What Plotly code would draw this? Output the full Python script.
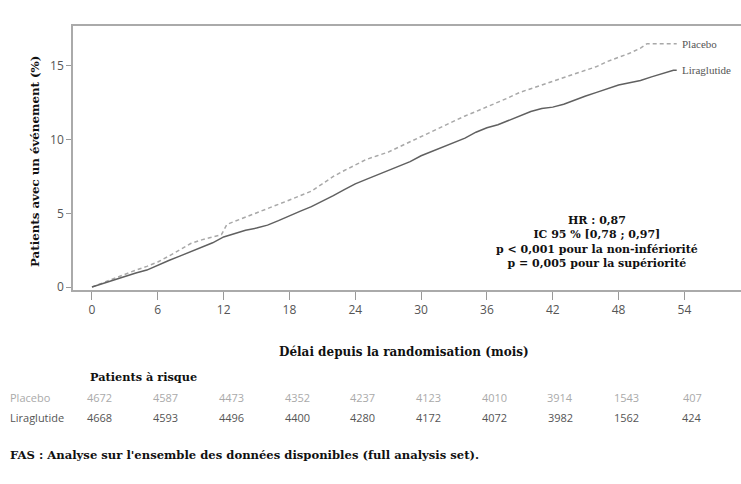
import plotly.graph_objects as go

# --- data -------------------------------------------------------------
months_lira = [0, 1, 2, 3, 4, 5, 6, 7, 8, 9, 10, 11, 12, 13, 14, 15, 16, 17, 18, 19,
               20, 21, 22, 23, 24, 25, 26, 27, 28, 29, 30, 31, 32, 33, 34, 35, 36, 37,
               38, 39, 40, 41, 42, 43, 44, 45, 46, 47, 48, 49, 50, 51, 52, 53, 53.3]
lira = [0, 0.25, 0.5, 0.75, 0.95, 1.15, 1.5, 1.8, 2.1, 2.4, 2.7, 3.0, 3.4, 3.65, 3.85,
        4.0, 4.2, 4.5, 4.85, 5.15, 5.45, 5.8, 6.2, 6.6, 7.0, 7.3, 7.6, 7.9, 8.2, 8.5,
        8.9, 9.2, 9.5, 9.8, 10.1, 10.5, 10.8, 11.0, 11.3, 11.6, 11.9, 12.1, 12.2,
        12.4, 12.7, 12.95, 13.2, 13.45, 13.7, 13.85, 14.0, 14.25, 14.5, 14.7, 14.7]

months_plac = [0, 1, 2, 3, 4, 5, 6, 7, 8, 9, 10, 11, 11.8, 12.3, 13, 14, 15, 16, 17,
               18, 19, 20, 21, 22, 23, 24, 25, 26, 27, 28, 29, 30, 31, 32, 33, 34, 35,
               36, 37, 38, 39, 40, 41, 42, 43, 44, 45, 46, 47, 48, 49, 50, 50.6, 53.3]
plac = [0, 0.3, 0.6, 0.9, 1.15, 1.4, 1.7, 2.1, 2.55, 2.95, 3.2, 3.4, 3.55, 4.25,
        4.45, 4.75, 5.0, 5.3, 5.6, 5.9, 6.2, 6.5, 7.0, 7.5, 7.9, 8.3, 8.65, 8.9,
        9.15, 9.5, 9.85, 10.2, 10.55, 10.95, 11.3, 11.6, 11.9, 12.2, 12.5, 12.85,
        13.2, 13.45, 13.7, 13.95, 14.2, 14.45, 14.7, 14.95, 15.3, 15.55, 15.85,
        16.2, 16.5, 16.5]

x_ticks = [0, 6, 12, 18, 24, 30, 36, 42, 48, 54]
y_ticks = [0, 5, 10, 15]
risk_placebo = [4672, 4587, 4473, 4352, 4237, 4123, 4010, 3914, 1543, 407]
risk_lira = [4668, 4593, 4496, 4400, 4280, 4172, 4072, 3982, 1562, 424]

W, H = 741, 484
L, R, T, B = 73, 0, 26, 194
PW, PH = W - L - R, H - T - B


def px_x(p):
    return (p - L) / PW


def px_y(p):
    return (H - B - p) / PH


SERIF = "DejaVu Serif"
SERIF2 = "Liberation Serif"
SANS = "Open Sans"

fig = go.Figure()
fig.add_trace(go.Scatter(x=months_plac, y=plac, mode="lines",
                         line=dict(color="#a8a8a8", width=1.5, dash="4px,3px"),
                         name="Placebo", showlegend=False, hoverinfo="skip"))
fig.add_trace(go.Scatter(x=months_lira, y=lira, mode="lines",
                         line=dict(color="#606060", width=1.5),
                         name="Liraglutide", showlegend=False, hoverinfo="skip"))

ann = []
# curve labels
ann.append(dict(x=53.6, y=plac[-1], xref="x", yref="y", text="Placebo",
                showarrow=False, xanchor="left", yanchor="middle",
                font=dict(family=SERIF2, size=11, color="#555")))
ann.append(dict(x=53.6, y=lira[-1], xref="x", yref="y", text="Liraglutide",
                showarrow=False, xanchor="left", yanchor="middle",
                font=dict(family=SERIF2, size=11, color="#555")))
# stats box
ann.append(dict(x=46.0, y=px_y(242), xref="x", yref="paper",
                text="<b>HR : 0,87<br>IC 95 % [0,78 ; 0,97]<br>p < 0,001 pour la non-infériorité<br>p = 0,005 pour la supériorité</b>",
                showarrow=False, xanchor="center", yanchor="middle", align="center",
                font=dict(family=SERIF, size=11, color="#111")))
# axis titles
ann.append(dict(x=px_x(35), y=px_y(162), xref="paper", yref="paper",
                text="<b>Patients avec un événement (%)</b>", textangle=-90,
                showarrow=False, xanchor="center", yanchor="middle",
                font=dict(family=SERIF, size=11.8, color="#111")))
ann.append(dict(x=px_x(404), y=px_y(352), xref="paper", yref="paper",
                text="<b>Délai depuis la randomisation (mois)</b>",
                showarrow=False, xanchor="center", yanchor="middle",
                font=dict(family=SERIF, size=12, color="#111")))
# risk table
ann.append(dict(x=px_x(88), y=px_y(377), xref="paper", yref="paper",
                text="<b>Patients à risque</b>", showarrow=False,
                xanchor="left", yanchor="middle",
                font=dict(family=SERIF, size=11.3, color="#111")))
ann.append(dict(x=px_x(8), y=px_y(397), xref="paper", yref="paper",
                text="Placebo", showarrow=False, xanchor="left", yanchor="middle",
                font=dict(family=SANS, size=11, color="#aaaaaa")))
ann.append(dict(x=px_x(8), y=px_y(417), xref="paper", yref="paper",
                text="Liraglutide", showarrow=False, xanchor="left", yanchor="middle",
                font=dict(family=SANS, size=11, color="#555555")))
for m, a, b in zip(x_ticks, risk_placebo, risk_lira):
    ann.append(dict(x=m + 0.7, y=px_y(397), xref="x", yref="paper", text=str(a),
                    showarrow=False, xanchor="center", yanchor="middle",
                    font=dict(family=SANS, size=11, color="#aaaaaa")))
    ann.append(dict(x=m + 0.7, y=px_y(417), xref="x", yref="paper", text=str(b),
                    showarrow=False, xanchor="center", yanchor="middle",
                    font=dict(family=SANS, size=11, color="#555555")))
# footnote
ann.append(dict(x=px_x(8), y=px_y(455), xref="paper", yref="paper",
                text="<b>FAS : Analyse sur l'ensemble des données disponibles (full analysis set).</b>",
                showarrow=False, xanchor="left", yanchor="middle",
                font=dict(family=SERIF, size=11.6, color="#111")))

fig.update_layout(
    width=W, height=H,
    margin=dict(l=L, r=R, t=T, b=B, pad=0),
    paper_bgcolor="white", plot_bgcolor="white",
    showlegend=False,
    annotations=ann,
    xaxis=dict(range=[-1.73, 59.16], tickvals=x_ticks, ticks="outside", ticklen=8,
               tickcolor="#999", showline=True, linecolor="#aaa", linewidth=1.5,
               mirror=True, showgrid=False, zeroline=False,
               tickfont=dict(family=SANS, size=12, color="#555")),
    yaxis=dict(range=[-0.2, 17.7], tickvals=y_ticks, ticks="outside", ticklen=5,
               tickcolor="#999", showline=True, linecolor="#aaa", linewidth=1.5,
               mirror=False, showgrid=False, zeroline=False,
               tickfont=dict(family=SANS, size=12, color="#555")),
)

fig.write_html("out.html")
